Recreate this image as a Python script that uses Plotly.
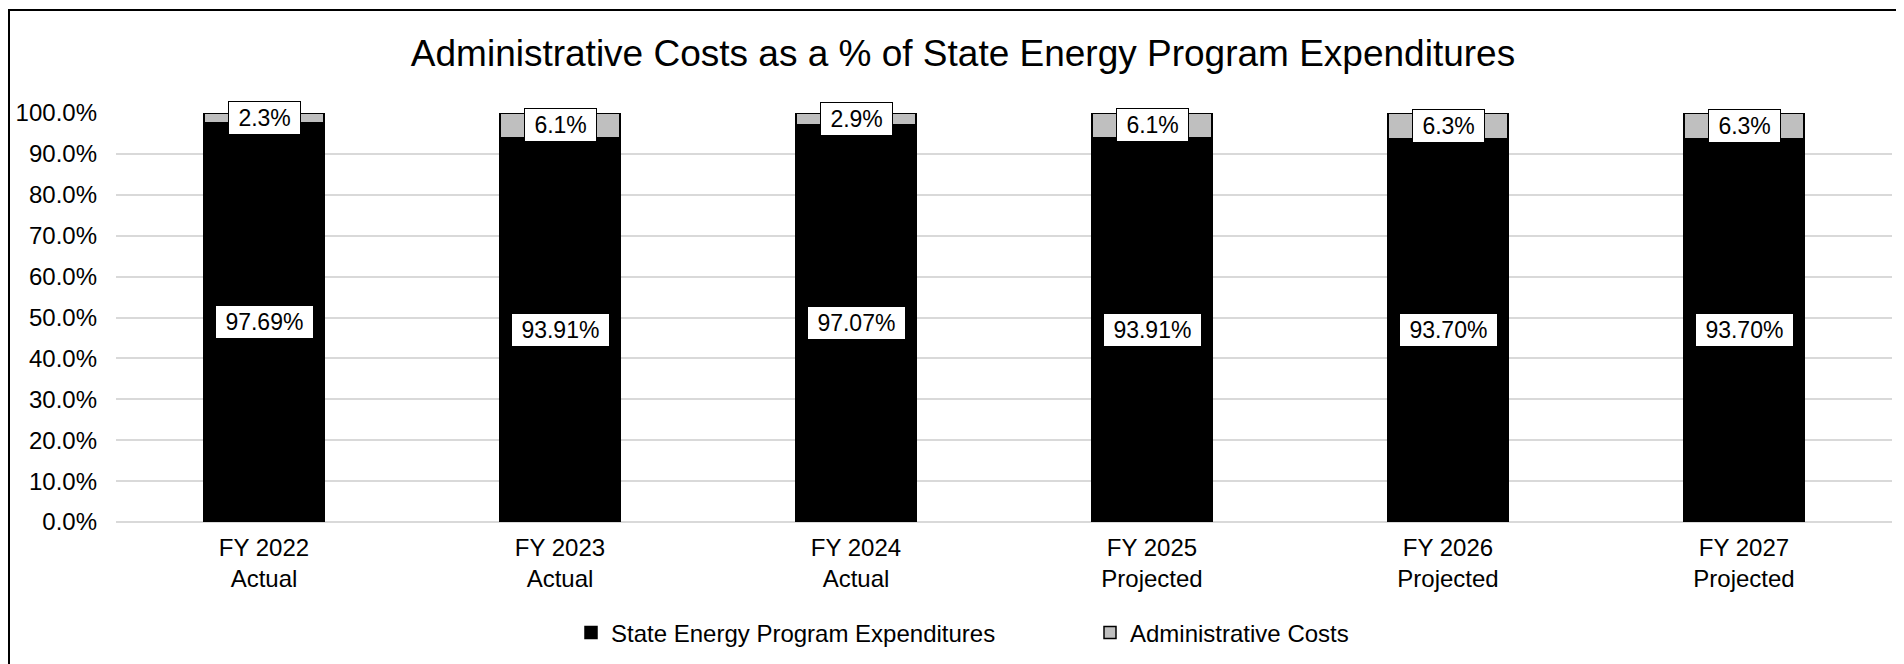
import plotly.graph_objects as go

# Data
categories = ["FY 2022<br>Actual", "FY 2023<br>Actual", "FY 2024<br>Actual",
              "FY 2025<br>Projected", "FY 2026<br>Projected", "FY 2027<br>Projected"]
program_pct = [97.69, 93.91, 97.07, 93.91, 93.70, 93.70]
admin_pct = [2.31, 6.09, 2.93, 6.09, 6.30, 6.30]
y_ticks = [0, 10, 20, 30, 40, 50, 60, 70, 80, 90, 100]
y_tick_text = [f"{v:.1f}%" for v in y_ticks]

FONT = "Liberation Sans, Arial, sans-serif"
W, H = 1904, 664
# the page body adds 8px, so figure coords are page coords minus 8
M_L, M_R, M_T, M_B = 108, 20, 105, 150
pw, ph = W - M_L - M_R, H - M_T - M_B


def px_x(v):
    return (v - M_L) / pw


def px_y(v):
    return (H - M_B - v) / ph


fig = go.Figure()
fig.add_trace(go.Bar(
    x=categories, y=program_pct, name="State Energy Program Expenditures",
    marker=dict(color="#000000", line=dict(color="#000000", width=1.5)),
    hoverinfo="skip",
))
fig.add_trace(go.Bar(
    x=categories, y=admin_pct, name="Administrative Costs",
    marker=dict(color="#BFBFBF", line=dict(color="#000000", width=1.5)),
    hoverinfo="skip",
))

# boxed data labels, centred in each segment
for cat, p, a in zip(categories, program_pct, admin_pct):
    fig.add_annotation(
        x=cat, y=p / 2, text=f" {p:.2f}% ", showarrow=False,
        bgcolor="white", bordercolor="black", borderwidth=1, borderpad=3,
        font=dict(family=FONT, size=23, color="black"),
    )
    fig.add_annotation(
        x=cat, y=p + a / 2, text=f" {a:.1f}% ", showarrow=False,
        bgcolor="white", bordercolor="black", borderwidth=1, borderpad=3,
        font=dict(family=FONT, size=23, color="black"),
    )

# outer chart frame (only its left and top edges are inside the picture)
fig.add_shape(
    type="rect", xref="paper", yref="paper",
    x0=px_x(1), x1=px_x(W + 20), y0=px_y(H + 20), y1=px_y(2),
    line=dict(color="black", width=2), fillcolor="rgba(0,0,0,0)", layer="below",
)

fig.update_layout(
    width=W, height=H,
    margin=dict(l=M_L, r=M_R, t=M_T, b=M_B),
    barmode="stack", bargap=0.595,
    plot_bgcolor="white", paper_bgcolor="white",
    font=dict(family=FONT, size=24, color="black"),
    title=dict(
        text="Administrative Costs as a % of State Energy Program Expenditures",
        x=955 / W, xanchor="center", y=1 - 45 / H, yanchor="middle",
        font=dict(family=FONT, size=37, color="black"),
    ),
    xaxis=dict(showgrid=False, showline=False, ticks="", ticklabelstandoff=9,
               automargin=False,
               tickfont=dict(family=FONT, size=24, color="black")),
    yaxis=dict(range=[0, 100], tickvals=y_ticks, ticktext=y_tick_text,
               showgrid=True, gridcolor="#D9D9D9", gridwidth=2,
               zeroline=True, zerolinecolor="#D9D9D9", zerolinewidth=2,
               showline=False, ticks="", ticklabelstandoff=18,
               automargin=False,
               tickfont=dict(family=FONT, size=24, color="black")),
    legend=dict(orientation="h", x=px_x(563), xanchor="left",
                y=px_y(625), yanchor="middle",
                entrywidth=474, font=dict(family=FONT, size=24, color="black"),
                traceorder="normal"),
    showlegend=True,
)

fig.write_html("out.html")
